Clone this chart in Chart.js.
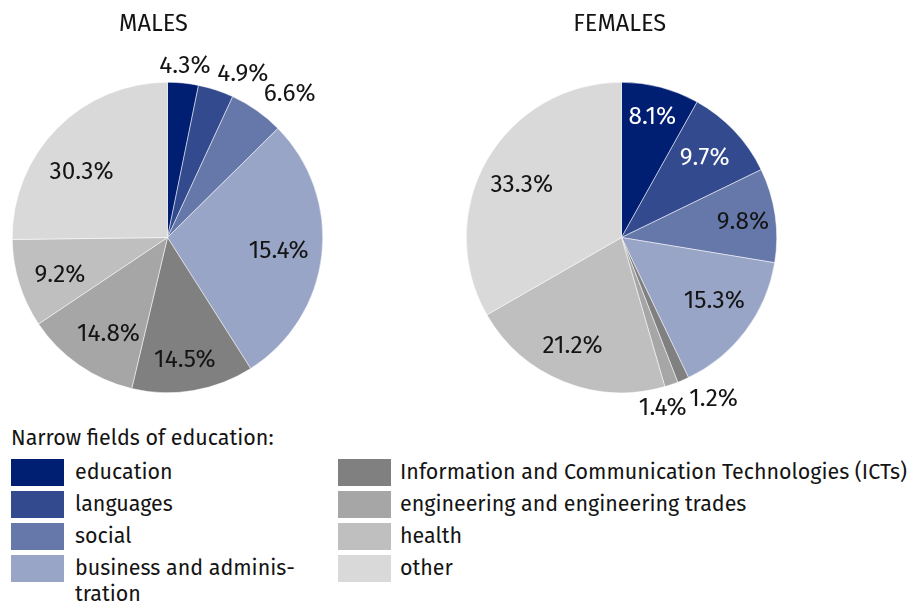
<!DOCTYPE html>
<html><head><meta charset="utf-8">
<script src="https://cdn.jsdelivr.net/npm/chart.js@4/dist/chart.umd.min.js"></script>
<style>
html,body{margin:0;padding:0;background:#fff;}
body{width:909px;height:604px;position:relative;overflow:hidden;font-family:"Fira Sans","Open Sans",sans-serif;color:#141414;}
canvas{position:absolute;top:0;}
.txt{position:absolute;white-space:nowrap;}
.box{position:absolute;width:53px;height:27px;}
.leg{position:absolute;white-space:normal;hyphens:manual;-webkit-hyphens:manual;}
</style></head><body>
<canvas id="cM" width="454" height="425" style="left:0"></canvas>
<canvas id="cF" width="454" height="425" style="left:454px"></canvas>
<div id="overlay"></div>
<script>
// ---- data ----
const categories = ["education", "languages", "social", "business and adminis\u00ADtration",
  "Information and Communication Technologies (ICTs)", "engineering and engineering trades", "health", "other"];
const legendTitle = "Narrow fields of education:";
const chartTitles = ["MALES", "FEMALES"];
// slice sizes as drawn in the picture (males slices do not follow the printed labels)
const malesSlices = [3.2, 3.7, 5.7, 28.4, 12.7, 11.9, 9.2, 25.2];
const malesLabels = ["4.3%", "4.9%", "6.6%", "15.4%", "14.5%", "14.8%", "9.2%", "30.3%"];
const femalesSlices = [8.1, 9.7, 9.8, 15.3, 1.2, 1.4, 21.2, 33.3];
const femalesLabels = ["8.1%", "9.7%", "9.8%", "15.3%", "1.2%", "1.4%", "21.2%", "33.3%"];

// ---- styles / layout ----
const colors = ["#001e72", "#334b8e", "#6678aa", "#99a5c7", "#808080", "#a6a6a6", "#bfbfbf", "#d9d9d9"];
const FAMILY = '"Fira Sans","Open Sans",sans-serif';
const DARK = "#141414";
const malesPlace = { radial: [1.12, 1.17, 1.22, 0.72, 0.79, 0.72, 0.73, 0.70], shift: [0, 6.3, 5.1, -0.4, 1.4, -2.9, -1.1, -6.9],
  colors: [DARK, DARK, DARK, DARK, DARK, DARK, DARK, DARK] };
const femalesPlace = { radial: [0.81, 0.75, 0.79, 0.72, 1.19, 1.12, 0.76, 0.73], shift: [-0.4, -1, 0.2, -3, -6.5, 5, 2.5, -1.7],
  colors: ["#ffffff", "#ffffff", DARK, DARK, DARK, DARK, DARK, DARK] };

function fitSize(text, targetW) {
  const c = document.createElement('canvas').getContext('2d');
  c.font = '400 100px ' + FAMILY;
  return 100 * targetW / c.measureText(text).width;
}
const labelSize = fitSize("15.4%", 60);
const titleSize = fitSize("FEMALES", 93);
const legendSize = fitSize("Information and Communication Technologies (ICTs)", 507);

const labelPlugin = {
  id: 'pctLabels',
  afterDatasetsDraw(chart, args, opts) {
    const ctx = chart.ctx;
    const meta = chart.getDatasetMeta(0);
    ctx.save();
    ctx.font = '400 ' + labelSize + 'px ' + FAMILY;
    ctx.textAlign = 'center';
    ctx.textBaseline = 'alphabetic';
    meta.data.forEach((arc, i) => {
      const p = arc.getProps(['x', 'y', 'startAngle', 'endAngle', 'outerRadius'], true);
      const mid = (p.startAngle + p.endAngle) / 2 + opts.place.shift[i] * Math.PI / 180;
      const r = p.outerRadius * opts.place.radial[i];
      const t = opts.texts[i];
      const m = ctx.measureText(t);
      const cx = p.x + Math.cos(mid) * r;
      const cy = p.y + Math.sin(mid) * r + (m.actualBoundingBoxAscent - m.actualBoundingBoxDescent) / 2;
      ctx.fillStyle = opts.place.colors[i];
      ctx.fillText(t, cx, cy);
    });
    ctx.restore();
  }
};

function makePie(id, values, texts, place) {
  return new Chart(document.getElementById(id), {
    type: 'pie',
    data: { labels: categories, datasets: [{ data: values, backgroundColor: colors,
      borderColor: '#ffffff', borderWidth: 0.5, hoverBorderWidth: 0.5, hoverOffset: 0 }] },
    options: {
      responsive: false, animation: false, events: [],
      layout: { padding: { left: 12, top: 82, right: 131, bottom: 32 } },
      plugins: { legend: { display: false }, tooltip: { enabled: false },
        pctLabels: { texts: texts, place: place } }
    },
    plugins: [labelPlugin]
  });
}
makePie('cM', malesSlices, malesLabels, malesPlace);
makePie('cF', femalesSlices, femalesLabels, femalesPlace);

// ---- HTML text: titles and legend ----
const overlay = document.getElementById('overlay');
// Open Sans metrics: ascent 1.069em, descent 0.293em
function topForBaseline(baseline, size, lineH) {
  return baseline - ((lineH - 1.362 * size) / 2 + 1.069 * size);
}
function addText(txt, x, baseline, size, center) {
  const d = document.createElement('div');
  d.className = 'txt';
  d.textContent = txt;
  d.style.fontSize = size + 'px';
  d.style.lineHeight = size + 'px';
  d.style.top = topForBaseline(baseline, size, size) + 'px';
  d.style.left = x + 'px';
  if (center) d.style.transform = 'translateX(-50%)';
  overlay.appendChild(d);
  return d;
}
addText(chartTitles[0], 153.5, 33.3, titleSize, true);
addText(chartTitles[1], 619.7, 33.3, titleSize, true);
addText(legendTitle, 11, 447.3, legendSize, false);

const colX = [11, 338], textX = [75, 400];
const LINE_H = 26;
categories.forEach((c, i) => {
  const col = Math.floor(i / 4), row = i % 4;
  const top = 459 + 32 * row;
  const b = document.createElement('div');
  b.className = 'box';
  b.style.left = colX[col] + 'px';
  b.style.top = top + 'px';
  b.style.background = colors[i];
  overlay.appendChild(b);
  const t = document.createElement('div');
  t.className = 'leg';
  t.textContent = c;
  t.style.fontSize = legendSize + 'px';
  t.style.lineHeight = LINE_H + 'px';
  t.style.left = textX[col] + 'px';
  t.style.width = (col === 0 ? 245 : 520) + 'px';
  t.style.top = topForBaseline(top + 21, legendSize, LINE_H) + 'px';
  overlay.appendChild(t);
});
</script>
</body></html>
